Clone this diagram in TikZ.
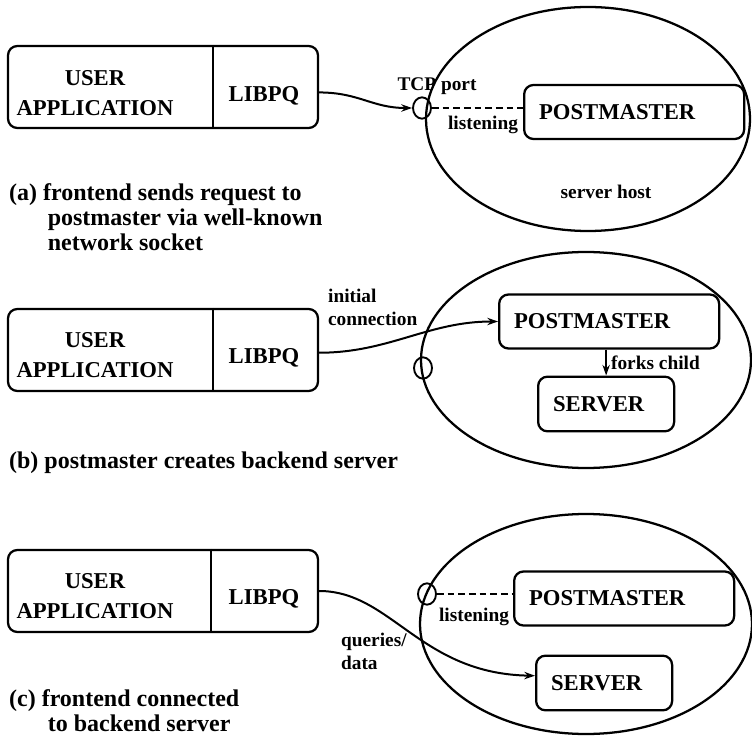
\documentclass[tikz,border=0pt]{standalone}
\usepackage{fontspec}
\setmainfont{Liberation Serif}
\usetikzlibrary{shapes.geometric,arrows.meta}
\begin{document}
\begin{tikzpicture}[x=0.75pt,y=-0.75pt,
  line width=1.7pt,
  lbl/.style={font=\bfseries\fontsize{17}{22.5}\selectfont, inner sep=0pt, align=center},
  small/.style={font=\bfseries\fontsize{14.5}{17}\selectfont, inner sep=0pt, align=left},
  captxt/.style={font=\bfseries\fontsize{18}{19}\selectfont, inner sep=0pt, align=left},
  febox/.style={draw, rounded corners=7pt, minimum width=232.5pt, minimum height=61.5pt, inner sep=0pt},
  pmbox/.style={draw, rounded corners=7pt, minimum height=40.5pt, text width=142.5pt, inner xsep=11.25pt, inner ysep=0pt, align=left, font=\bfseries\fontsize{17}{22.5}\selectfont, anchor=west},
  svbox/.style={draw, rounded corners=7pt, minimum height=41pt, text width=79.5pt, inner xsep=11.25pt, inner ysep=0pt, align=left, font=\bfseries\fontsize{17}{22.5}\selectfont, anchor=west},
  host/.style={draw, ellipse, inner sep=0pt},
  port/.style={draw, ellipse, minimum width=13.5pt, minimum height=16pt, inner sep=0pt, line width=1.4pt},
  conn/.style={line width=1.5pt, -{Stealth[length=8pt,width=5.5pt]}},
  listen/.style={dash pattern=on 5pt off 3pt, line width=1.3pt}
]
\useasboundingbox (0,0) rectangle (752,737);

% ---------- panel (a) ----------
\node[host, minimum width=243pt, minimum height=168pt] (hostA) at (588,119) {};
\node[febox] (feA) at (163,87) {};
\coordinate (dA) at (213,87);
\draw (dA |- feA.north) -- (dA |- feA.south);
\node[lbl] (appA) at (95,93) {USER\\APPLICATION};
\node[lbl] (libA) at (264,96) {LIBPQ};
\node[pmbox] (pmA) at (523,112) {POSTMASTER};
\node[port] (portA) at (422,108) {};
\draw[conn] (feA.-2) .. controls +(40,0) and +(-40,0) .. (portA.west);
\draw[listen] (portA.east) -- (portA.east -| pmA.west);
\node[small, anchor=base] (tcpA) at (437,91) {TCP port};
\node[small, anchor=base] (lisA) at (483,130) {listening};
\node[small, anchor=base] (shA) at (606,199) {server host};
\node[captxt, anchor=north west] (capA) at (8,182) {(a) frontend sends request to\\\hspace*{29pt}postmaster via well-known\\\hspace*{29pt}network socket};

% ---------- panel (b) ----------
\node[host, minimum width=247.5pt, minimum height=162pt] (hostB) at (586,360) {};
\node[febox] (feB) at (163,350) {};
\coordinate (dB) at (213,350);
\draw (dB |- feB.north) -- (dB |- feB.south);
\node[lbl] (appB) at (95,355) {USER\\APPLICATION};
\node[lbl] (libB) at (264,358) {LIBPQ};
\node[pmbox] (pmB) at (498,321.5) {POSTMASTER};
\node[svbox] (svB) at (537,404) {SERVER};
\node[port] (portB) at (423,368) {};
\draw[conn] (feB.-1) .. controls +(70,0) and +(-70,0) .. (pmB.west);
\draw[conn] (svB.north |- pmB.south) -- (svB.north);
\node[small, anchor=base west] (fkB) at (610,369) {forks child};
\node[small, anchor=north west] (icB) at (327,288) {initial\\connection};
\node[captxt, anchor=base west] (capB) at (8,468) {(b) postmaster creates backend server};

% ---------- panel (c) ----------
\node[host, minimum width=249pt, minimum height=165pt] (hostC) at (586,624) {};
\node[febox] (feC) at (163,591) {};
\coordinate (dC) at (211,591);
\draw (dC |- feC.north) -- (dC |- feC.south);
\node[lbl] (appC) at (95,596) {USER\\APPLICATION};
\node[lbl] (libC) at (264,599) {LIBPQ};
\node[pmbox] (pmC) at (513,598.5) {POSTMASTER};
\node[svbox] (svC) at (535,683) {SERVER};
\node[port] (portC) at (427,594) {};
\draw[listen] (portC.east) -- (portC.east -| pmC.west);
\draw[conn] (feC.east) .. controls +(72,0) and +(-115,-2) .. (svC.174);
\node[small, anchor=base] (lisC) at (474,621) {listening};
\node[small, anchor=north west] (qdC) at (340,632) {queries/\\data};
\node[captxt, anchor=north west] (capC) at (8,688) {(c) frontend connected\\\hspace*{29pt}to backend server};
\end{tikzpicture}
\end{document}
